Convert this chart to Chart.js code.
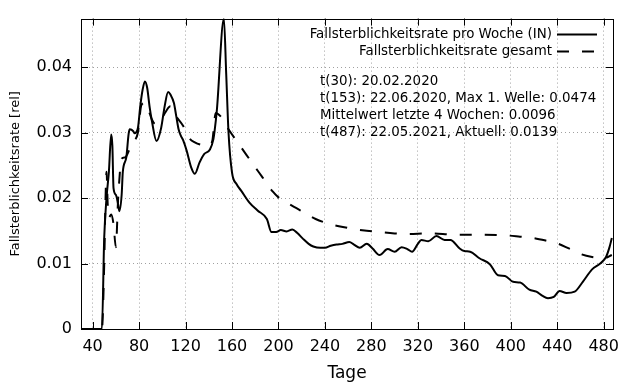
<!DOCTYPE html>
<html>
<head>
<meta charset="utf-8">
<script src="https://cdn.jsdelivr.net/npm/chart.js@4/dist/chart.umd.min.js"></script>
<style>
    html, body { margin: 0; padding: 0; background: #fff; }
    #wrap { width: 640px; height: 384px; }
</style>
</head>
<body>
<div id="wrap"><canvas id="chart"></canvas></div>
<script>
// Fallsterblichkeitsrate pro Woche (IN)
const weekDays = [30, 48, 50, 52, 54, 56, 57, 58, 60, 62, 63, 65, 66, 69, 71, 72, 75, 76, 79, 81, 83, 85, 87, 89, 91,
    95, 99, 102, 105, 107, 110, 112, 114, 116, 118, 121, 125, 128, 132, 136, 141, 144, 145, 147, 153, 155, 157,
    160, 164, 168, 175, 182, 190, 194, 198, 202, 207, 212, 216, 221, 226, 230, 236, 240, 245, 250, 255, 261, 265,
    270, 276, 281, 287, 294, 300, 306, 311, 315, 320, 323, 329, 336, 343, 348, 356, 360, 365, 373, 382, 389, 395,
    402, 408, 416, 422, 427, 432, 437, 442, 448, 455, 462, 470, 477, 482, 485, 487];
const weekRate = [0, 0, 0.0140, 0.0201, 0.0240, 0.0297, 0.0280, 0.0215, 0.0205, 0.0190, 0.0180, 0.0205, 0.0240,
    0.0262, 0.0298, 0.0305, 0.0302, 0.0299, 0.0307, 0.0340, 0.0365, 0.0378, 0.0368, 0.0340, 0.0318,
    0.0287, 0.0307, 0.0340, 0.0362, 0.0358, 0.0345, 0.0325, 0.0305, 0.0295, 0.0288, 0.0272, 0.0246, 0.0237,
    0.0254, 0.0267, 0.0274, 0.0290, 0.0302, 0.0335, 0.0474, 0.0390, 0.0300,
    0.0239, 0.0221, 0.0211, 0.0193, 0.0181, 0.0168, 0.0148, 0.0148, 0.0151, 0.0149, 0.0152, 0.0147, 0.0138,
    0.0130, 0.0126, 0.0124, 0.0124, 0.0127, 0.0129, 0.0130, 0.0133, 0.0129,
    0.0124, 0.0130, 0.0123, 0.0113, 0.0122, 0.0118, 0.0125, 0.0122, 0.0118, 0.0130, 0.0136, 0.0134, 0.0142,
    0.0136, 0.0136, 0.0123, 0.0119, 0.0118, 0.0108, 0.0099, 0.0082, 0.0081,
    0.0072, 0.0071, 0.0060, 0.0057, 0.0051, 0.0047, 0.0049, 0.0058, 0.0055, 0.0057, 0.0072, 0.0091, 0.0100,
    0.0110, 0.0125, 0.0139];

// Fallsterblichkeitsrate gesamt
const totalDays = [30, 48, 50, 51, 52, 53, 54, 56, 58, 60, 62, 65, 68, 72, 76, 79, 82, 85, 88, 91, 94, 98, 103, 107,
    110, 113, 118, 123, 128, 134, 140, 143, 146, 150, 157, 164, 170, 176, 182, 189, 195, 200, 210, 222, 232,
    241, 252, 264, 276, 287, 300, 310, 330, 353, 375, 396, 408, 419, 430, 441, 450, 461, 470, 480, 487];
const totalRate = [0, 0, 0.0100, 0.0190, 0.0240, 0.0190, 0.0170, 0.0175, 0.0160, 0.0125, 0.0200, 0.0260, 0.0262,
    0.0275, 0.0287, 0.0300, 0.0342, 0.0345, 0.0335, 0.0320, 0.0313, 0.0317, 0.0332, 0.0340,
    0.0328, 0.0322, 0.0310, 0.0292, 0.0285, 0.0281, 0.0280, 0.0287, 0.0330, 0.0325, 0.0305, 0.0287, 0.0272,
    0.0257, 0.0242, 0.0225, 0.0210, 0.0201, 0.0190, 0.0178, 0.0168,
    0.0162, 0.0157, 0.0153, 0.0150, 0.0148, 0.0146, 0.0145, 0.0146, 0.0144, 0.0144, 0.0143, 0.0141, 0.0139,
    0.0135, 0.0130, 0.0123, 0.0114, 0.0110, 0.0108, 0.0113];

const xTicks = [40, 80, 120, 160, 200, 240, 280, 320, 360, 400, 440, 480];
const yTicks = [0, 0.01, 0.02, 0.03, 0.04];

const seriesLabels = ["Fallsterblichkeitsrate pro Woche (IN)", "Fallsterblichkeitsrate gesamt"];
const infoLines = [
    "t(30): 20.02.2020",
    "t(153): 22.06.2020, Max 1. Welle: 0.0474",
    "Mittelwert letzte 4 Wochen: 0.0096",
    "t(487): 22.05.2021, Aktuell: 0.0139",
];

const FONT = "'DejaVu Sans', sans-serif";

function toPoints(xs, ys) {
    return xs.map((x, i) => ({x: x, y: ys[i]}));
}

// gnuplot style: box, inward ticks on all four sides, legend + info text
const framePlugin = {
    id: "frame",
    afterDraw(chart) {
        const ctx = chart.ctx;
        const a = chart.chartArea;
        const xs = chart.scales.x;
        const ys = chart.scales.y;
        const tl = 7;

        ctx.save();
        ctx.strokeStyle = "#000";
        ctx.lineWidth = 1;
        ctx.beginPath();
        for (let v of xTicks) {
            let px = Math.round(xs.getPixelForValue(v)) + 0.5;
            ctx.moveTo(px, a.bottom); ctx.lineTo(px, a.bottom - tl);
            ctx.moveTo(px, a.top); ctx.lineTo(px, a.top + tl);
        }
        for (let v of yTicks) {
            let py = Math.round(ys.getPixelForValue(v)) + 0.5;
            ctx.moveTo(a.left, py); ctx.lineTo(a.left + tl, py);
            ctx.moveTo(a.right, py); ctx.lineTo(a.right - tl, py);
        }
        ctx.stroke();
        ctx.strokeRect(Math.round(a.left) + 0.5, Math.round(a.top) + 0.5,
            Math.round(a.right - a.left), Math.round(a.bottom - a.top));

        // Legend
        ctx.font = "13.4px " + FONT;
        ctx.fillStyle = "#000";
        ctx.textAlign = "right";
        ctx.textBaseline = "middle";
        let lx = a.right - 61;
        chart.data.datasets.forEach((ds, i) => {
            let ly = a.top + 16 + i * 17;
            ctx.fillText(ds.label, lx, ly);
            ctx.lineWidth = 2;
            ctx.setLineDash(ds.borderDash || []);
            ctx.beginPath();
            ctx.moveTo(lx + 5, ly);
            ctx.lineTo(lx + 45, ly);
            ctx.stroke();
        });
        ctx.setLineDash([]);

        // Info text
        ctx.font = "13.4px " + FONT;
        ctx.textAlign = "left";
        infoLines.forEach((t, i) => {
            ctx.fillText(t, a.left + 239, a.top + 63 + i * 17);
        });
        ctx.restore();
    }
};

const chart = new Chart(document.getElementById("chart"), {
    type: "line",
    data: {
        datasets: [
            {
                label: seriesLabels[0],
                data: toPoints(weekDays, weekRate),
                borderColor: "#000",
                borderWidth: 2,
                pointRadius: 0,
                cubicInterpolationMode: "monotone",
            },
            {
                label: seriesLabels[1],
                data: toPoints(totalDays, totalRate),
                borderColor: "#000",
                borderWidth: 2,
                borderDash: [12, 13],
                pointRadius: 0,
                cubicInterpolationMode: "monotone",
            },
        ]
    },
    options: {
        responsive: true,
        maintainAspectRatio: false,
        animation: false,
        events: [],
        layout: {
            padding: {left: 0, right: 27, top: 17, bottom: 0}
        },
        plugins: {
            legend: {display: false},
            tooltip: {enabled: false},
        },
        scales: {
            x: {
                type: "linear",
                min: 30,
                max: 488,
                afterBuildTicks: scale => { scale.ticks = xTicks.map(v => ({value: v})); },
                afterFit: scale => { scale.height = 55; },
                ticks: {
                    color: "#000",
                    padding: 8,
                    maxRotation: 0,
                    font: {family: FONT, size: 16},
                },
                grid: {
                    color: "#a0a0a0",
                    drawTicks: false,
                },
                border: {display: false, dash: [1, 3]},
                title: {
                    display: true,
                    text: "Tage",
                    color: "#000",
                    font: {family: FONT, size: 17},
                    padding: {top: 0, bottom: 0},
                },
            },
            y: {
                min: 0,
                max: 0.0474,
                afterBuildTicks: scale => { scale.ticks = yTicks.map(v => ({value: v})); },
                afterFit: scale => { scale.width = 81; },
                ticks: {
                    color: "#000",
                    padding: 9,
                    font: {family: FONT, size: 16},
                    callback: v => v === 0 ? "0" : v.toFixed(2),
                },
                grid: {
                    color: "#a0a0a0",
                    drawTicks: false,
                },
                border: {display: false, dash: [1, 3]},
                title: {
                    display: true,
                    text: "Fallsterblichkeitsrate [rel]",
                    color: "#000",
                    font: {family: FONT, size: 13},
                    padding: {top: 8, bottom: 0},
                },
            },
        },
    },
    plugins: [framePlugin],
});
</script>
</body>
</html>
